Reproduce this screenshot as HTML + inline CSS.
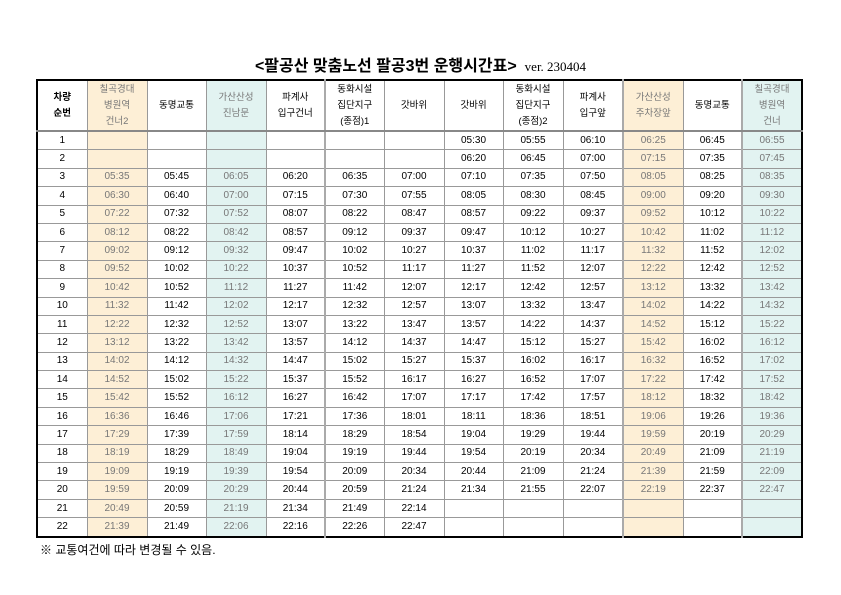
<!DOCTYPE html>
<html><head><meta charset="utf-8"><style>
body{margin:0;width:841px;height:595px;background:#fff;position:relative;font-family:"Liberation Sans","Noto Sans CJK KR",sans-serif;}
.title{position:absolute;left:0;width:841px;top:52px;text-align:center;font-family:"Liberation Sans","Noto Sans CJK KR",sans-serif;font-size:16px;font-weight:bold;color:#000;}
.title span{font-family:"Liberation Serif",serif;font-weight:normal;font-size:13px;margin-left:8px;}
table{position:absolute;left:36px;top:79px;border-collapse:collapse;table-layout:fixed;border:2px solid #000;}
td{border:1px solid #999;font-size:10px;text-align:center;padding:0;height:17.4px;line-height:10px;color:#000;overflow:hidden;white-space:nowrap;}
thead td{height:49px;font-size:9.5px;line-height:16px;border-bottom:2px solid #888;}
.o{background:#fdefd6;color:#777;}
.t{background:#e2f3f1;color:#777;}
.g{border-right:2px solid #aaa;}
.gl{border-left:2px solid #aaa;}
.note{position:absolute;left:40px;top:541px;font-size:12px;}
</style></head><body>
<div class="title">&lt;팔공산 맞춤노선 팔공3번 운행시간표&gt;<span>ver. 230404</span></div>
<table>
<colgroup><col style="width:50px"><col style="width:60px"><col style="width:59px"><col style="width:60px"><col style="width:59px"><col style="width:59px"><col style="width:60px"><col style="width:59px"><col style="width:60px"><col style="width:60px"><col style="width:60px"><col style="width:59px"><col style="width:60px"></colgroup>
<thead><tr><td><b>차량<br>순번</b></td><td class="o">칠곡경대<br>병원역<br>건너2</td><td>동명교통</td><td class="t">가산산성<br>진남문</td><td class="g">파계사<br>입구건너</td><td>동화시설<br>집단지구<br>(종점)1</td><td>갓바위</td><td>갓바위</td><td>동화시설<br>집단지구<br>(종점)2</td><td>파계사<br>입구앞</td><td class="o gl">가산산성<br>주차장앞</td><td>동명교통</td><td class="t gl">칠곡경대<br>병원역<br>건너</td></tr></thead>
<tbody>
<tr><td>1</td><td class="o"></td><td></td><td class="t"></td><td class="g"></td><td></td><td></td><td>05:30</td><td>05:55</td><td>06:10</td><td class="o gl">06:25</td><td>06:45</td><td class="t gl">06:55</td></tr>
<tr><td>2</td><td class="o"></td><td></td><td class="t"></td><td class="g"></td><td></td><td></td><td>06:20</td><td>06:45</td><td>07:00</td><td class="o gl">07:15</td><td>07:35</td><td class="t gl">07:45</td></tr>
<tr><td>3</td><td class="o">05:35</td><td>05:45</td><td class="t">06:05</td><td class="g">06:20</td><td>06:35</td><td>07:00</td><td>07:10</td><td>07:35</td><td>07:50</td><td class="o gl">08:05</td><td>08:25</td><td class="t gl">08:35</td></tr>
<tr><td>4</td><td class="o">06:30</td><td>06:40</td><td class="t">07:00</td><td class="g">07:15</td><td>07:30</td><td>07:55</td><td>08:05</td><td>08:30</td><td>08:45</td><td class="o gl">09:00</td><td>09:20</td><td class="t gl">09:30</td></tr>
<tr><td>5</td><td class="o">07:22</td><td>07:32</td><td class="t">07:52</td><td class="g">08:07</td><td>08:22</td><td>08:47</td><td>08:57</td><td>09:22</td><td>09:37</td><td class="o gl">09:52</td><td>10:12</td><td class="t gl">10:22</td></tr>
<tr><td>6</td><td class="o">08:12</td><td>08:22</td><td class="t">08:42</td><td class="g">08:57</td><td>09:12</td><td>09:37</td><td>09:47</td><td>10:12</td><td>10:27</td><td class="o gl">10:42</td><td>11:02</td><td class="t gl">11:12</td></tr>
<tr><td>7</td><td class="o">09:02</td><td>09:12</td><td class="t">09:32</td><td class="g">09:47</td><td>10:02</td><td>10:27</td><td>10:37</td><td>11:02</td><td>11:17</td><td class="o gl">11:32</td><td>11:52</td><td class="t gl">12:02</td></tr>
<tr><td>8</td><td class="o">09:52</td><td>10:02</td><td class="t">10:22</td><td class="g">10:37</td><td>10:52</td><td>11:17</td><td>11:27</td><td>11:52</td><td>12:07</td><td class="o gl">12:22</td><td>12:42</td><td class="t gl">12:52</td></tr>
<tr><td>9</td><td class="o">10:42</td><td>10:52</td><td class="t">11:12</td><td class="g">11:27</td><td>11:42</td><td>12:07</td><td>12:17</td><td>12:42</td><td>12:57</td><td class="o gl">13:12</td><td>13:32</td><td class="t gl">13:42</td></tr>
<tr><td>10</td><td class="o">11:32</td><td>11:42</td><td class="t">12:02</td><td class="g">12:17</td><td>12:32</td><td>12:57</td><td>13:07</td><td>13:32</td><td>13:47</td><td class="o gl">14:02</td><td>14:22</td><td class="t gl">14:32</td></tr>
<tr><td>11</td><td class="o">12:22</td><td>12:32</td><td class="t">12:52</td><td class="g">13:07</td><td>13:22</td><td>13:47</td><td>13:57</td><td>14:22</td><td>14:37</td><td class="o gl">14:52</td><td>15:12</td><td class="t gl">15:22</td></tr>
<tr><td>12</td><td class="o">13:12</td><td>13:22</td><td class="t">13:42</td><td class="g">13:57</td><td>14:12</td><td>14:37</td><td>14:47</td><td>15:12</td><td>15:27</td><td class="o gl">15:42</td><td>16:02</td><td class="t gl">16:12</td></tr>
<tr><td>13</td><td class="o">14:02</td><td>14:12</td><td class="t">14:32</td><td class="g">14:47</td><td>15:02</td><td>15:27</td><td>15:37</td><td>16:02</td><td>16:17</td><td class="o gl">16:32</td><td>16:52</td><td class="t gl">17:02</td></tr>
<tr><td>14</td><td class="o">14:52</td><td>15:02</td><td class="t">15:22</td><td class="g">15:37</td><td>15:52</td><td>16:17</td><td>16:27</td><td>16:52</td><td>17:07</td><td class="o gl">17:22</td><td>17:42</td><td class="t gl">17:52</td></tr>
<tr><td>15</td><td class="o">15:42</td><td>15:52</td><td class="t">16:12</td><td class="g">16:27</td><td>16:42</td><td>17:07</td><td>17:17</td><td>17:42</td><td>17:57</td><td class="o gl">18:12</td><td>18:32</td><td class="t gl">18:42</td></tr>
<tr><td>16</td><td class="o">16:36</td><td>16:46</td><td class="t">17:06</td><td class="g">17:21</td><td>17:36</td><td>18:01</td><td>18:11</td><td>18:36</td><td>18:51</td><td class="o gl">19:06</td><td>19:26</td><td class="t gl">19:36</td></tr>
<tr><td>17</td><td class="o">17:29</td><td>17:39</td><td class="t">17:59</td><td class="g">18:14</td><td>18:29</td><td>18:54</td><td>19:04</td><td>19:29</td><td>19:44</td><td class="o gl">19:59</td><td>20:19</td><td class="t gl">20:29</td></tr>
<tr><td>18</td><td class="o">18:19</td><td>18:29</td><td class="t">18:49</td><td class="g">19:04</td><td>19:19</td><td>19:44</td><td>19:54</td><td>20:19</td><td>20:34</td><td class="o gl">20:49</td><td>21:09</td><td class="t gl">21:19</td></tr>
<tr><td>19</td><td class="o">19:09</td><td>19:19</td><td class="t">19:39</td><td class="g">19:54</td><td>20:09</td><td>20:34</td><td>20:44</td><td>21:09</td><td>21:24</td><td class="o gl">21:39</td><td>21:59</td><td class="t gl">22:09</td></tr>
<tr><td>20</td><td class="o">19:59</td><td>20:09</td><td class="t">20:29</td><td class="g">20:44</td><td>20:59</td><td>21:24</td><td>21:34</td><td>21:55</td><td>22:07</td><td class="o gl">22:19</td><td>22:37</td><td class="t gl">22:47</td></tr>
<tr><td>21</td><td class="o">20:49</td><td>20:59</td><td class="t">21:19</td><td class="g">21:34</td><td>21:49</td><td>22:14</td><td></td><td></td><td></td><td class="o gl"></td><td></td><td class="t gl"></td></tr>
<tr><td>22</td><td class="o">21:39</td><td>21:49</td><td class="t">22:06</td><td class="g">22:16</td><td>22:26</td><td>22:47</td><td></td><td></td><td></td><td class="o gl"></td><td></td><td class="t gl"></td></tr>
</tbody></table>
<div class="note">※ 교통여건에 따라 변경될 수 있음.</div>
</body></html>
